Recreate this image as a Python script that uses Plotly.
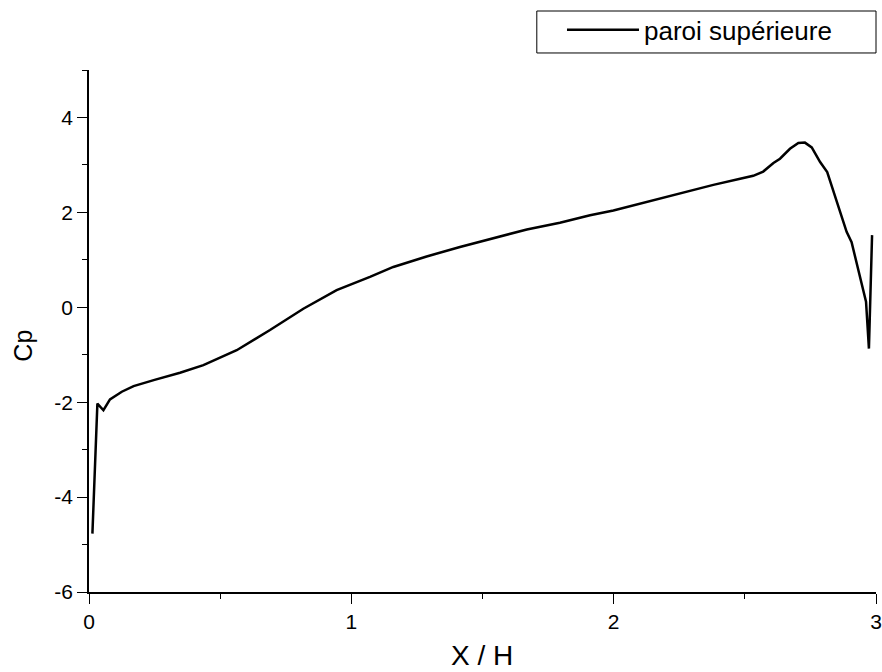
import plotly.graph_objects as go

x_h = [0.013, 0.032, 0.055, 0.08, 0.125, 0.17, 0.25, 0.347, 0.436, 0.563, 0.69, 0.817,
       0.944, 1.033, 1.071, 1.16, 1.287, 1.414, 1.541, 1.669, 1.795, 1.91, 1.999, 2.126,
       2.253, 2.380, 2.482, 2.532, 2.57, 2.609, 2.634, 2.672, 2.704, 2.729, 2.755, 2.787,
       2.814, 2.85, 2.888, 2.907, 2.939, 2.962, 2.973, 2.985]
cp = [-4.77, -2.03, -2.17, -1.94, -1.78, -1.66, -1.53, -1.38, -1.22, -0.905, -0.48, -0.03,
      0.36, 0.55, 0.64, 0.85, 1.07, 1.27, 1.46, 1.64, 1.78, 1.94, 2.04, 2.22,
      2.41, 2.58, 2.71, 2.77, 2.86, 3.04, 3.13, 3.34, 3.46, 3.47, 3.37, 3.06,
      2.85, 2.25, 1.59, 1.37, 0.64, 0.12, -0.87, 1.52]

x_ticks = [0, 1, 2, 3]
x_labels = ["0", "1", "2", "3"]
y_ticks = [-6, -4, -2, 0, 2, 4]
y_labels = ["-6", "-4", "-2", "0", "2", "4"]

font = "Liberation Sans, Arial, sans-serif"

fig = go.Figure()
fig.add_trace(go.Scatter(x=x_h, y=cp, mode="lines", name="paroi supérieure",
                         line=dict(color="black", width=2.5)))

fig.add_shape(type="rect", xref="paper", yref="paper",
              x0=0.569, x1=1.0, y0=1.0326, y1=1.113,
              line=dict(color="black", width=1), fillcolor="rgba(0,0,0,0)")

fig.add_annotation(text="Cp", xref="paper", yref="paper", x=-0.0832, y=0.471,
                   textangle=-90, showarrow=False, font=dict(size=25, family=font),
                   xanchor="center", yanchor="middle")
fig.add_annotation(text="X / H", xref="paper", yref="paper", x=0.4994, y=-0.1226,
                   showarrow=False, font=dict(size=28, family=font),
                   xanchor="center", yanchor="middle")

fig.update_layout(
    width=882, height=672,
    margin=dict(l=89, r=6, t=70, b=80, autoexpand=False),
    plot_bgcolor="white", paper_bgcolor="white",
    font=dict(family=font, color="black"),
    showlegend=True,
    legend=dict(x=0.601, y=1.122, xanchor="left", yanchor="top",
                borderwidth=0, bgcolor="rgba(0,0,0,0)",
                font=dict(size=26, family=font), itemwidth=72),
)
fig.update_xaxes(range=[0, 3], tickvals=x_ticks, ticktext=x_labels, ticks="outside", ticklen=10,
                 tickcolor="black", showline=True, linecolor="black", linewidth=1.5,
                 showgrid=False, zeroline=False, tickfont=dict(size=21), automargin=False,
                 minor=dict(dtick=0.5, tick0=0, ticks="outside", ticklen=5, tickcolor="black"))
fig.update_yaxes(range=[-6, 5], tickvals=y_ticks, ticktext=y_labels, ticks="outside", ticklen=10,
                 tickcolor="black", showline=True, linecolor="black", linewidth=1.5,
                 showgrid=False, zeroline=False, tickfont=dict(size=21), automargin=False,
                 minor=dict(dtick=1, tick0=-6, ticks="outside", ticklen=5, tickcolor="black"))

fig.write_html("out.html", config={"displayModeBar": False},
               post_script="document.body.style.margin='0';document.body.style.overflow='hidden';")
